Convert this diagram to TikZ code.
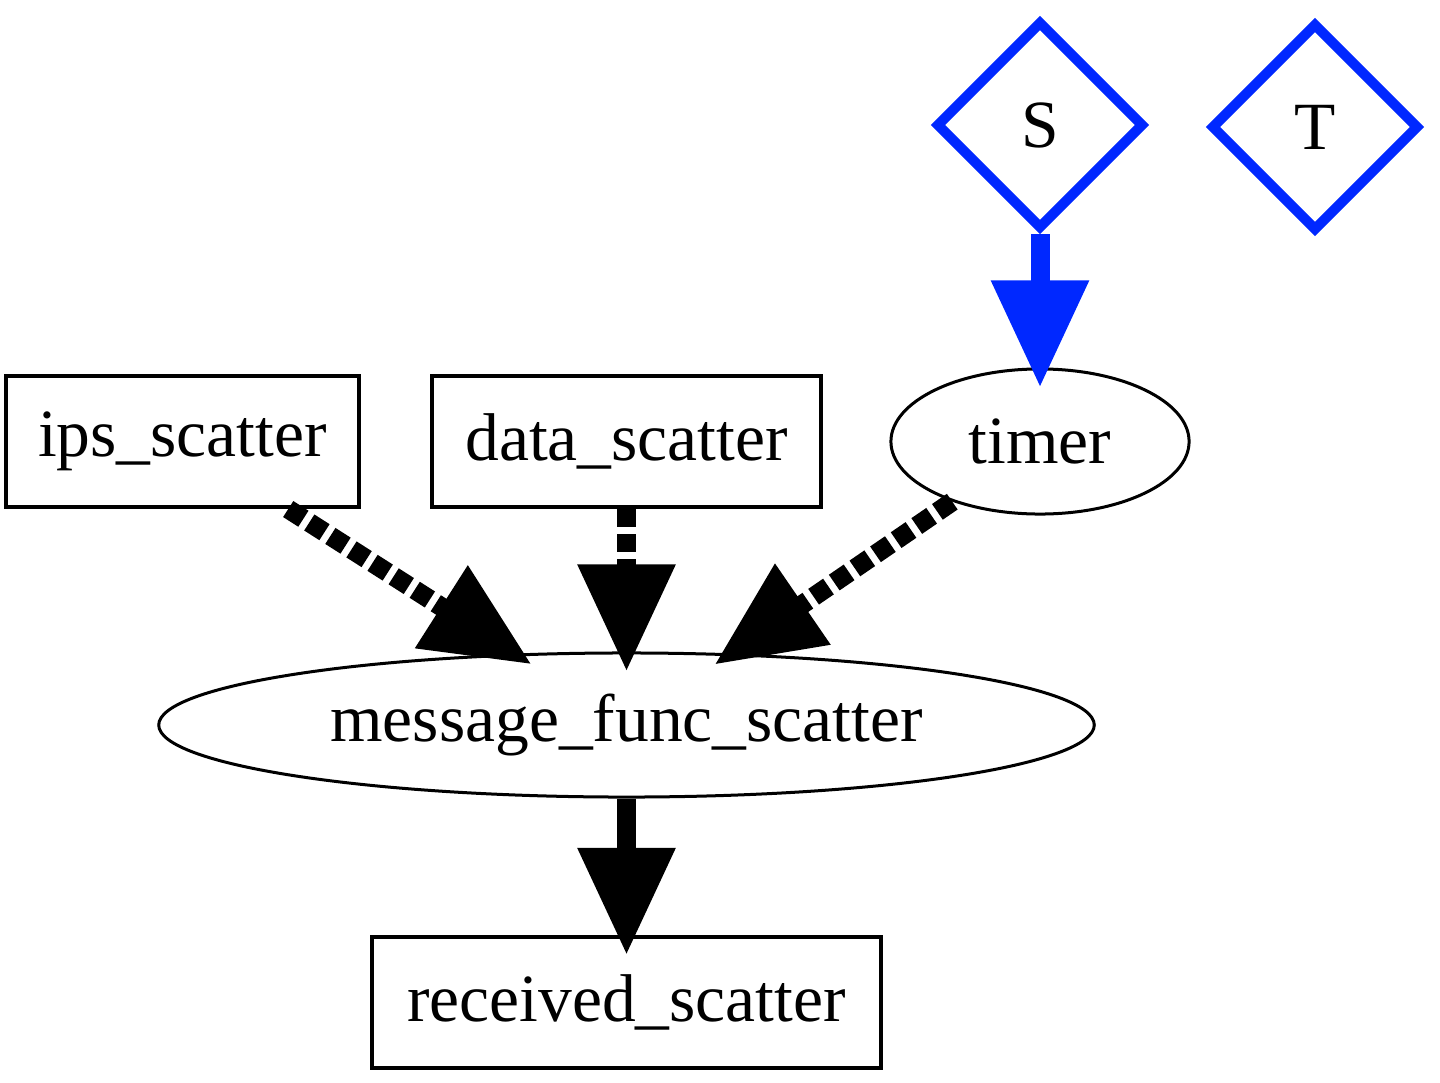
\documentclass[tikz,border=0pt]{standalone}
\usepackage{fontspec}
\setmainfont{Liberation Serif}
\usepackage{xcolor}
\usepackage{tikz}
\usetikzlibrary{shapes.geometric,arrows.meta}
\definecolor{GVBlue}{HTML}{0028FF}
\definecolor{GVBlack}{HTML}{000000}

\begin{document}
\begin{tikzpicture}[x=0.01cm,y=-0.01cm,
  every node/.style={font=\fontsize{19.2}{23}\selectfont, inner sep=0pt},
  boxnode/.style={draw=GVBlack, line width=0.04cm, rectangle, minimum height=1.31cm},
  ovalnode/.style={draw=GVBlack, line width=0.03cm, ellipse, minimum height=1.44cm},
  flagnode/.style={draw=GVBlue, line width=0.10cm, diamond, minimum width=2.08cm, minimum height=2.08cm},
  bigtip/.style={-{Triangle[length=1.07cm,width=0.93cm]}, line width=0.19cm, shorten >=-0.2cm},
  dashedge/.style={bigtip, GVBlack, dash pattern=on 0.18cm off 0.07cm},
  solidedge/.style={bigtip, GVBlack},
  blueedge/.style={bigtip, GVBlue}]
\path[use as bounding box] (0,0) rectangle (1440,1082);
% nodes
\node[flagnode] (S) at (1040,125) {S};
\node[flagnode] (T) at (1315,127) {T};
\node[boxnode, minimum width=3.53cm] (ips) at (182.5,441.5) {ips\_scatter};
\node[boxnode, minimum width=3.89cm] (data) at (626.5,441.5) {data\_scatter};
\node[ovalnode, minimum width=2.98cm, minimum height=1.45cm] (timer) at (1040,441.5) {timer};
\node[ovalnode, minimum width=9.35cm] (msg) at (626.5,725) {message\_func\_scatter};
\node[boxnode, minimum width=5.09cm] (recv) at (626.5,1002.5) {received\_scatter};
% edges
\draw[blueedge] (S) -- (timer);
\draw[dashedge] (ips) -- (msg);
\draw[dashedge] (data) -- (msg);
\draw[dashedge] (timer) -- (msg);
\draw[solidedge] (msg) -- (recv);
\end{tikzpicture}
\end{document}
